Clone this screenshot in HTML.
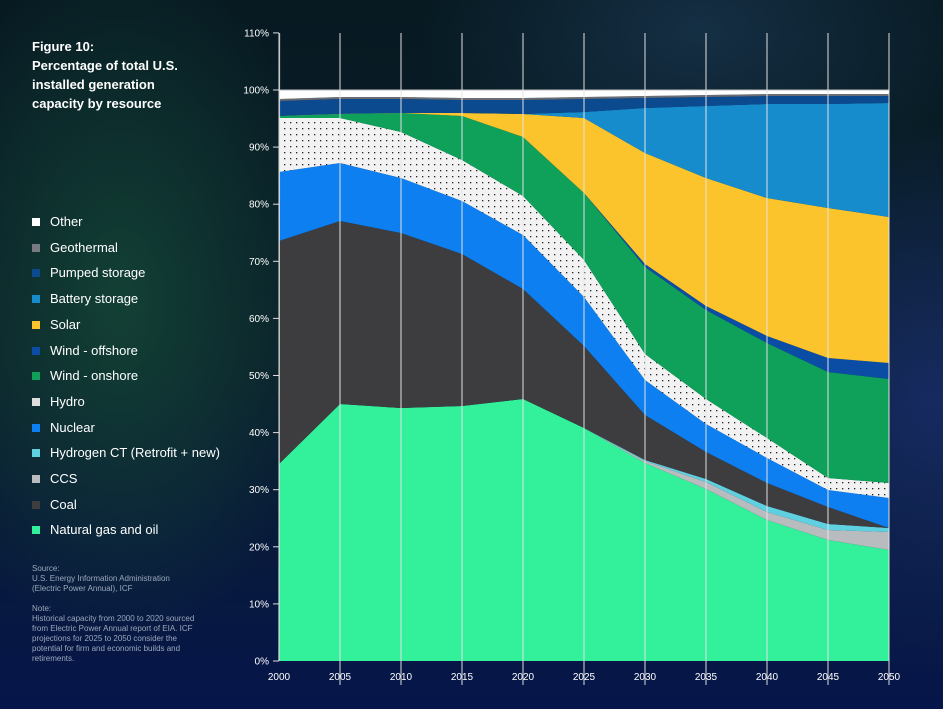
<!DOCTYPE html>
<html><head><meta charset="utf-8"><style>
html,body{margin:0;padding:0;width:943px;height:709px;overflow:hidden;background:#04122a}
body{font-family:"Liberation Sans",sans-serif;position:relative}
#bg{position:absolute;left:0;top:0;width:943px;height:709px;
background:
radial-gradient(ellipse 300px 500px at 120px 300px,rgba(20,70,55,0.85),rgba(0,0,0,0) 70%),
radial-gradient(ellipse 400px 250px at 700px 30px,rgba(30,60,90,0.6),rgba(0,0,0,0) 70%),
radial-gradient(ellipse 300px 400px at 930px 400px,rgba(25,45,110,0.8),rgba(0,0,0,0) 70%),
linear-gradient(180deg,#071a22 0%,#0a1f2a 50%,#06154a 100%)}
.t{position:absolute;color:#fff}
.leg{position:absolute;left:32px;font-size:13px;color:#fff}
.leg i{position:absolute;left:0;top:4px;width:8px;height:8px}
.leg span{position:absolute;left:18px;top:0;white-space:nowrap}
</style></head><body>
<div id="bg"></div>
<div class="t" style="left:32px;top:37px;font-size:13px;font-weight:bold;line-height:19px">Figure 10:<br>Percentage of total U.S.<br>installed generation<br>capacity by resource</div>
<div id="legend"></div>
<div class="t" style="left:32px;top:564px;font-size:8px;line-height:10px;color:#9aa8bb">Source:<br>U.S. Energy Information Administration<br>(Electric Power Annual), ICF</div>
<div class="t" style="left:32px;top:604px;font-size:8px;line-height:10px;color:#9aa8bb">Note:<br>Historical capacity from 2000 to 2020 sourced<br>from Electric Power Annual report of EIA. ICF<br>projections for 2025 to 2050 consider the<br>potential for firm and economic builds and<br>retirements.</div>
<svg id="c" width="943" height="709" style="position:absolute;left:0;top:0"></svg>
<script>
var X=[279,340,401,462,523,584,645,706,767,828,889];
var base=[661,661,661,661,661,661,661,661,661,661,661];
var L=[
["gas","#33f09a",[464,404,408,406,399,428,463,489,520,540,550]],
["ccs","#b8bcbf",[464,404,408,406,399,428,461,482,512,530,532]],
["h2","#5fd0e0",[464,404,408,406,399,428,460,479,506,524,528]],
["coal","#3d3d3f",[241,221,233,254,289,346,415,452,483,507,528]],
["nuc","#0d7ff0",[172,163,178,201,235,297,380,424,458,490,498]],
["hydro","url(#dots)",[118,118,132,160,196,260,354,399,438,478,483]],
["won","#0fa05a",[116,113,113,116,137,193,267,310,343,372,379]],
["woff","#0b4da5",[116,113,113,116,137,193,264,306,336,358,363]],
["solar","#fcc42c",[116,114,113,113,114,118,153,178,198,208,217]],
["bat","#168ccd",[116,114,113,113,114,112,108,106,104,104,103]],
["ps","#0c4a90",[101,99,99,100,100,99,98,97,96,96,96]],
["geo","#6a6e74",[99,97,97,98,98,97,96,95,94,94,94]],
["oth","#ffffff",[90,90,90,90,90,90,90,90,90,90,90]]];
var s='<defs><pattern id="dots" width="6" height="6" patternUnits="userSpaceOnUse"><rect width="6" height="6" fill="#f2f2f2"/><rect x="2" y="2" width="1.3" height="1.3" fill="#222"/></pattern></defs>';
var prev=base;
L.forEach(function(l){var p=[];for(var i=0;i<11;i++)p.push(X[i]+','+l[2][i]);for(var i=10;i>=0;i--)p.push(X[i]+','+prev[i]);
s+='<polygon points="'+p.join(' ')+'" fill="'+l[1]+'"/>';prev=l[2];});
s+='<line x1="279" y1="90" x2="889" y2="90" stroke="#bbb" stroke-width="1"/>';
for(var i=0;i<11;i++){s+='<line x1="'+(X[i]+ (i==0?0.5:0))+'" y1="33" x2="'+X[i]+'" y2="'+(i==0?661:685)+'" stroke="rgba(230,230,230,0.75)" stroke-width="1.3"/>';
s+='<text x="'+X[i]+'" y="680" fill="#fff" font-size="10" text-anchor="middle" font-family="Liberation Sans">'+(2000+5*i)+'</text>';}
for(var k=0;k<=11;k++){var y=661-k*57.1;s+='<text x="269" y="'+(y+3.5)+'" fill="#fff" font-size="10" text-anchor="end" font-family="Liberation Sans">'+(k*10)+'%</text>';
s+='<line x1="273" y1="'+y+'" x2="279" y2="'+y+'" stroke="#ddd" stroke-width="1"/>';}
s+='<line x1="279" y1="33" x2="279" y2="661" stroke="#ddd" stroke-width="1"/>';
document.getElementById('c').innerHTML=s;
var lg=[["Other","#fff"],["Geothermal","#777b80"],["Pumped storage","#0c4a90"],["Battery storage","#168ccd"],["Solar","#fcc42c"],["Wind - offshore","#0b4da5"],["Wind - onshore","#0fa05a"],["Hydro","#ddd"],["Nuclear","#0d7ff0"],["Hydrogen CT (Retrofit + new)","#5fd0e0"],["CCS","#b8bcbf"],["Coal","#3d3d3f"],["Natural gas and oil","#33f09a"]];
var h='';lg.forEach(function(a,i){h+='<div class="leg" style="top:'+(214+i*25.7)+'px"><i style="background:'+a[1]+'"></i><span>'+a[0]+'</span></div>';});
document.getElementById('legend').innerHTML=h;
</script>
</body></html>
